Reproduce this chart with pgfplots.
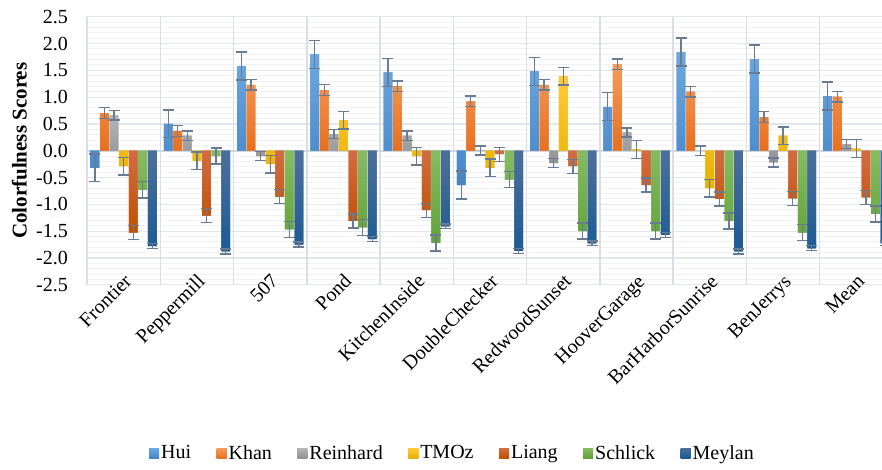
\documentclass[border=0pt]{standalone}
\usepackage{fontspec}
\setmainfont{Liberation Serif}
\usepackage{pgfplots}
\pgfplotsset{compat=1.18}
\usepackage{pgfplotstable}

\definecolor{huiT}{HTML}{6DA8DF}
\definecolor{huiB}{HTML}{4485C8}
\definecolor{khanT}{HTML}{F59A5A}
\definecolor{khanB}{HTML}{E8701F}
\definecolor{reiT}{HTML}{B6B6B6}
\definecolor{reiB}{HTML}{929292}
\definecolor{tmoT}{HTML}{FFCB35}
\definecolor{tmoB}{HTML}{E8B000}
\definecolor{liaT}{HTML}{D26C42}
\definecolor{liaB}{HTML}{C04F00}
\definecolor{schT}{HTML}{86BC62}
\definecolor{schB}{HTML}{62A23A}
\definecolor{meyT}{HTML}{4D6F9A}
\definecolor{meyB}{HTML}{1C5A94}
\definecolor{errc}{HTML}{6A7C93}
\definecolor{gridmaj}{HTML}{E3E6EA}
\definecolor{gridmin}{HTML}{F2F2F2}
\definecolor{vsep}{HTML}{DADFE6}
\definecolor{zeroc}{HTML}{D3D8DF}

\pgfplotstableread{
x  Hui    Khan   Reinhard TMOz   Liang   Schlick Meylan
0  -0.32  0.70   0.66     -0.29  -1.53   -0.73   -1.78
1  0.50   0.37   0.28     -0.19  -1.21   -0.10   -1.88
2  1.58   1.23   -0.10    -0.25  -0.86   -1.47   -1.75
3  1.80   1.13   0.31     0.57   -1.31   -1.43   -1.65
4  1.46   1.20   0.28     -0.10  -1.11   -1.72   -1.41
5  -0.64  0.92   0.005    -0.32  -0.065  -0.54   -1.87
6  1.48   1.23   -0.23    1.39   -0.29   -1.50   -1.73
7  0.82   1.61   0.34     0.025  -0.64   -1.50   -1.57
8  1.84   1.10   0.0      -0.70  -0.90   -1.31   -1.88
9  1.71   0.625  -0.22    0.28   -0.89   -1.53   -1.82
10 1.02   1.01   0.12     0.04   -0.87   -1.18   -1.73
}\datatable

\begin{document}
\begin{tikzpicture}[x=1pt,y=1pt]
\path[use as bounding box] (0,0) rectangle (882,469);
\begin{axis}[
  at={(87pt,184.3pt)}, anchor=south west,
  scale only axis, width=795pt, height=268pt,
  ybar=0.78pt, bar width=8.8pt,
  xmin=-0.5, xmax=10.35, ymin=-2.5, ymax=2.5,
  axis line style={draw=none},
  major tick length=0pt, minor tick length=0pt,
  ytick={-2.5,-2,-1.5,-1,-0.5,0,0.5,1,1.5,2,2.5},
  minor y tick num=4,
  ymajorgrids, yminorgrids,
  major grid style={draw=gridmaj, line width=1.2pt},
  minor grid style={draw=gridmin, line width=0.9pt},
  extra x ticks={-0.5,0.5,1.5,2.5,3.5,4.5,5.5,6.5,7.5,8.5,9.5},
  extra x tick labels={},
  extra x tick style={grid=major, major grid style={draw=vsep, line width=1.5pt}},
  extra y ticks={0}, extra y tick labels={},
  extra y tick style={grid=major, major grid style={draw=zeroc, line width=1.8pt}},
  /pgf/number format/assume math mode=true,
  yticklabel style={/pgf/number format/fixed, /pgf/number format/fixed zerofill,
     /pgf/number format/precision=1, font=\fontsize{20}{24}\selectfont,
     inner sep=0pt, anchor=east, xshift=-19pt},
  xtick={0,1,2,3,4,5,6,7,8,9,10},
  xticklabels={Frontier,Peppermill,507,Pond,KitchenInside,DoubleChecker,RedwoodSunset,HooverGarage,BarHarborSunrise,BenJerrys,Mean},
  xticklabel style={rotate=45, anchor=base east, inner sep=0pt, xshift=8pt, yshift=-5pt,
     font=\fontsize{20}{24}\selectfont},
  ylabel={Colorfulness Scores},
  ylabel style={font=\bfseries\fontsize{21}{25}\selectfont, at={(axis description cs:-0.085,0.5)}, anchor=center},
  error bars/error bar style={line width=1.3pt, draw=errc},
  error bars/error mark options={rotate=90, line width=1.3pt, draw=errc, mark size=5.5pt},
  legend columns=-1,
  legend style={at={(axis description cs:0.4597,-0.628)}, anchor=center, draw=none, fill=none,
     font=\fontsize{20}{24}\selectfont,
     /tikz/every even column/.append style={column sep=23.5pt}},
  legend image code/.code={\path[#1, draw=none] (0pt,-5pt) rectangle (10pt,5pt);},
]
\addplot[draw=none, fill=huiB, top color=huiT, bottom color=huiB, error bars/.cd, y dir=both, y fixed=0.26] table[x=x,y=Hui]{\datatable};
\addplot[draw=none, fill=khanB, top color=khanT, bottom color=khanB, error bars/.cd, y dir=both, y fixed=0.10] table[x=x,y=Khan]{\datatable};
\addplot[draw=none, fill=reiB, top color=reiT, bottom color=reiB, error bars/.cd, y dir=both, y fixed=0.085] table[x=x,y=Reinhard]{\datatable};
\addplot[draw=none, fill=tmoB, top color=tmoT, bottom color=tmoB, error bars/.cd, y dir=both, y fixed=0.165] table[x=x,y=TMOz]{\datatable};
\addplot[draw=none, fill=liaB, top color=liaT, bottom color=liaB, error bars/.cd, y dir=both, y fixed=0.13] table[x=x,y=Liang]{\datatable};
\addplot[draw=none, fill=schB, top color=schT, bottom color=schB, error bars/.cd, y dir=both, y fixed=0.15] table[x=x,y=Schlick]{\datatable};
\addplot[draw=none, fill=meyB, top color=meyT, bottom color=meyB, error bars/.cd, y dir=both, y fixed=0.045] table[x=x,y=Meylan]{\datatable};
\legend{Hui,Khan,Reinhard,TMOz,Liang,Schlick,Meylan}
\end{axis}
\end{tikzpicture}
\end{document}
